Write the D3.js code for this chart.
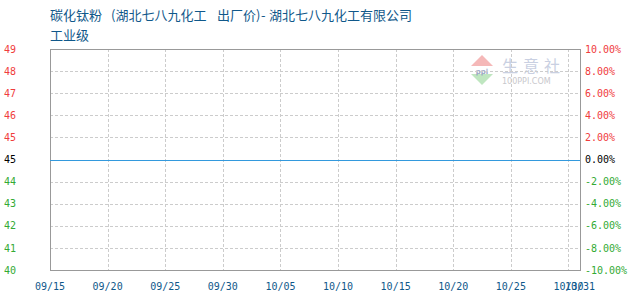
<!DOCTYPE html>
<html>
<head>
<meta charset="utf-8">
<script src="https://cdn.jsdelivr.net/npm/d3@7"></script>
<style>
  body { margin: 0; background: #fff; }
  svg { display: block; }
</style>
</head>
<body>
<div id="chart"></div>
<script>
//------------------------------------------------------------------------ Data
// title pieces, placed one after another
var titleParts = ["碳化钛粉", "(湖北七八九化工", "出厂价)", "-", "湖北七八九化工有限公司"];
var titleLine2 = "工业级";

var priceDates = ["2023-09-15", "2023-10-31"];
var priceValues = [45, 45];
var basePrice = 45;

var xTickDates = ["2023-09-15", "2023-09-20", "2023-09-25", "2023-09-30", "2023-10-05",
                  "2023-10-10", "2023-10-15", "2023-10-20", "2023-10-25", "2023-10-30", "2023-10-31"];
var pctTicks = [10, 8, 6, 4, 2, 0, -2, -4, -6, -8, -10];
var leftTickLabels = ["49", "48", "47", "46", "45", "45", "44", "43", "42", "41", "40"];
var rightTickLabels = ["10.00%", "8.00%", "6.00%", "4.00%", "2.00%", "0.00%",
                       "-2.00%", "-4.00%", "-6.00%", "-8.00%", "-10.00%"];

//------------------------------------------------------------------------ Layout
var W = 630, H = 300;
var margin = {top: 49, right: 50, bottom: 30, left: 50},
    width = W - margin.left - margin.right,
    height = H - margin.top - margin.bottom;

var colRed = "#f03c3c", colGreen = "#33aa33", colBlack = "#000",
    colBlue = "#10588a", colLine = "#3399dd", colGrid = "#cccccc", colBorder = "#999999";

var parse = d3.timeParse("%Y-%m-%d");

var svg = d3.select("#chart").append("svg")
  .attr("width", W)
  .attr("height", H);

var x = d3.scaleTime()
  .domain([parse(xTickDates[0]), parse(xTickDates[xTickDates.length - 1])])
  .range([margin.left, margin.left + width]);

var yPct = d3.scaleLinear()
  .domain([-10, 10])
  .range([margin.top + height, margin.top]);

var yPrice = d3.scaleLinear()
  .domain([basePrice * 0.9, basePrice * 1.1])
  .range([margin.top + height, margin.top]);

function pctColor(p) { return p > 0 ? colRed : (p < 0 ? colGreen : colBlack); }

//------------------------------------------------------------------------ Title
var titleX = [50, 111, 217, 261, 269];
var title = svg.append("text")
  .attr("y", 19.5)
  .attr("font-family", "'Noto Sans CJK SC', sans-serif")
  .attr("font-size", 13)
  .attr("fill", colBlue);
title.selectAll("tspan")
  .data(titleParts)
  .enter().append("tspan")
  .attr("x", function(d, i){ return titleX[i]; })
  .text(function(d){ return d; });

svg.append("text")
  .attr("x", 50).attr("y", 39.5)
  .attr("font-family", "'Noto Sans CJK SC', sans-serif")
  .attr("font-size", 13)
  .attr("fill", colBlue)
  .text(titleLine2);

//------------------------------------------------------------------------ Watermark
var wm = svg.append("g").attr("class", "watermark");
wm.append("path")
  .attr("d", "M482,55 L493,66 L471,66 Z")
  .attr("fill", "#f5b8b8");
wm.append("path")
  .attr("d", "M471,74 L493,74 L482,85 Z")
  .attr("fill", "#bfe6c0");
wm.append("text")
  .attr("x", 482).attr("y", 73.5)
  .attr("text-anchor", "middle")
  .attr("font-family", "DejaVu Sans, sans-serif")
  .attr("font-size", 7).attr("font-weight", "bold")
  .attr("fill", "#9aa6c4")
  .text("ppi");
wm.append("text")
  .attr("x", 502).attr("y", 72)
  .attr("font-family", "'Noto Sans CJK SC', sans-serif")
  .attr("font-size", 16)
  .attr("letter-spacing", 5)
  .attr("fill", "#c9d0e2")
  .text("生意社");
wm.append("text")
  .attr("x", 502).attr("y", 84)
  .attr("font-family", "DejaVu Sans, sans-serif")
  .attr("font-size", 8)
  .attr("fill", "#c8c8cc")
  .text("100PPI.COM");

//------------------------------------------------------------------------ Grid
svg.append("g").selectAll("line")
  .data(pctTicks.filter(function(p){ return p !== 10 && p !== -10; }))
  .enter().append("line")
  .attr("x1", margin.left).attr("x2", margin.left + width)
  .attr("y1", function(p){ return Math.round(yPct(p)) + 0.5; })
  .attr("y2", function(p){ return Math.round(yPct(p)) + 0.5; })
  .attr("stroke", colGrid)
  .attr("stroke-dasharray", "3,2");

svg.append("g").selectAll("line")
  .data(xTickDates.slice(1, xTickDates.length - 1))
  .enter().append("line")
  .attr("x1", function(d){ return Math.round(x(parse(d))) + 0.5; })
  .attr("x2", function(d){ return Math.round(x(parse(d))) + 0.5; })
  .attr("y1", margin.top).attr("y2", margin.top + height)
  .attr("stroke", colGrid)
  .attr("stroke-dasharray", "3,2");

//------------------------------------------------------------------------ Border
svg.append("rect")
  .attr("x", margin.left + 0.5).attr("y", margin.top + 0.5)
  .attr("width", width).attr("height", height)
  .attr("fill", "none")
  .attr("stroke", colBorder);

//------------------------------------------------------------------------ Price line
var line = d3.line()
  .x(function(d){ return x(d.date); })
  .y(function(d){ return Math.round(yPrice(d.value)) + 0.5; });

var priceData = priceDates.map(function(d, i){ return {date: parse(d), value: priceValues[i]}; });

svg.append("path")
  .datum(priceData)
  .attr("d", line)
  .attr("fill", "none")
  .attr("stroke", colLine)
  .attr("stroke-width", 1.2);

//------------------------------------------------------------------------ Axes labels
var monoFont = "'DejaVu Sans Mono', monospace";

svg.append("g").selectAll("text")
  .data(pctTicks)
  .enter().append("text")
  .attr("x", 4)
  .attr("y", function(p){ return yPct(p); })
  .attr("dy", "0.36em")
  .attr("font-family", monoFont).attr("font-size", 10)
  .attr("fill", pctColor)
  .text(function(p, i){ return leftTickLabels[i]; });

svg.append("g").selectAll("text")
  .data(pctTicks)
  .enter().append("text")
  .attr("x", 585)
  .attr("y", function(p){ return yPct(p); })
  .attr("dy", "0.36em")
  .attr("font-family", monoFont).attr("font-size", 10)
  .attr("fill", pctColor)
  .text(function(p, i){ return rightTickLabels[i]; });

// x labels; the last two overlap in the reference as well
var fmt = d3.timeFormat("%m/%d");
svg.append("g").selectAll("text")
  .data(xTickDates)
  .enter().append("text")
  .attr("x", function(d){ return x(parse(d)); })
  .attr("y", 290)
  .attr("text-anchor", "middle")
  .attr("font-family", monoFont).attr("font-size", 10)
  .attr("fill", colBlue)
  .text(function(d){ return fmt(parse(d)); });
</script>
</body>
</html>
